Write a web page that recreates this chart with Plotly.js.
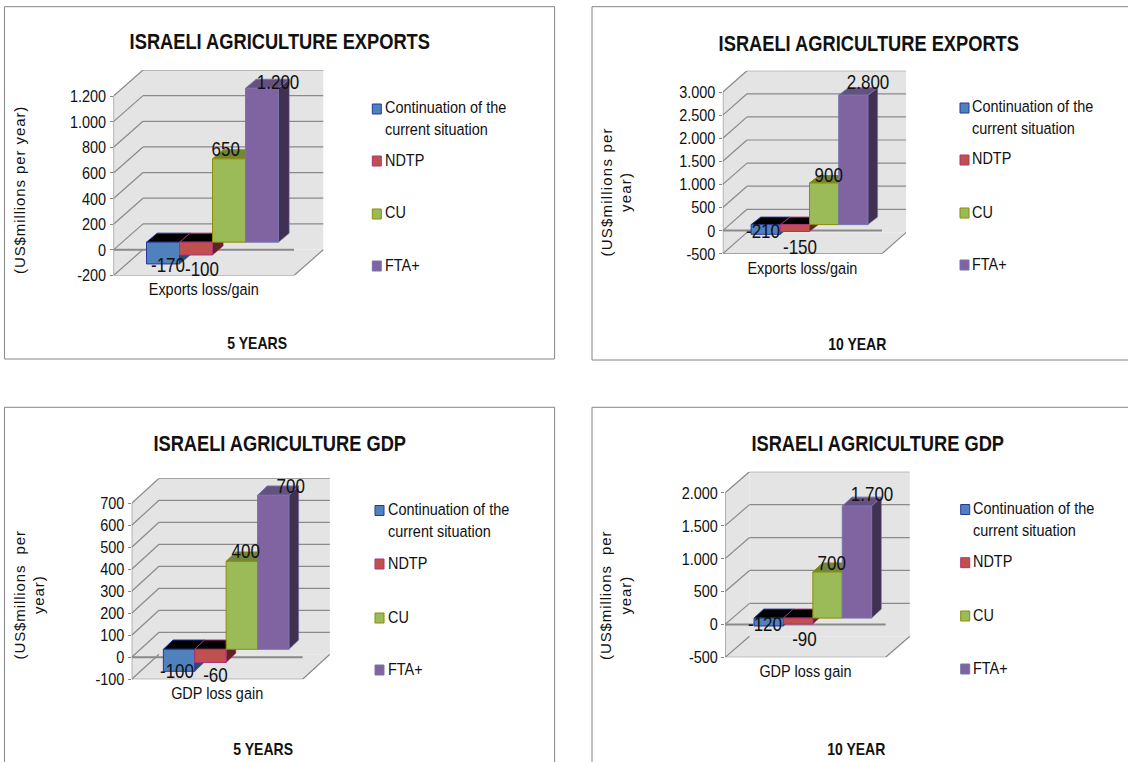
<!DOCTYPE html>
<html>
<head>
<meta charset="utf-8">
<script src="https://cdn.plot.ly/plotly-3.0.1.min.js"></script>
<style>
html,body{margin:0;padding:0;background:#fff}
#chart{width:1128px;height:762px}
</style>
</head>
<body>
<div id="chart"></div>
<script>
// Scenario names shared by the four panels
const seriesNames = ['Continuation of the<br>current situation', 'NDTP', 'CU', 'FTA+'];

// Values in US$ millions per year
const exports5 = [-170, -100, 650, 1200];
const exports10 = [-210, -150, 900, 2800];
const gdp5 = [-100, -60, 400, 700];
const gdp10 = [-120, -90, 700, 1700];

const exports5Ticks = [-200, 0, 200, 400, 600, 800, 1000, 1200];
const exports10Ticks = [-500, 0, 500, 1000, 1500, 2000, 2500, 3000];
const gdp5Ticks = [-100, 0, 100, 200, 300, 400, 500, 600, 700];
const gdp10Ticks = [-500, 0, 500, 1000, 1500, 2000];

const W = 1128, H = 762;
const SANS = 'Liberation Sans, Arial, sans-serif';
const INK = '#111111';
const CONDENSE = 0.85;   // horizontal squeeze giving the narrow letterforms

// Face colours per series: front, outline, top, side
const faces = [
  {front: '#4f81bd', line: '#27379c', top: '#000000', side: '#2b4a70'},
  {front: '#c0504d', line: '#b0307a', top: '#000000', side: '#5e2424'},
  {front: '#9bbb59', line: '#8c8c00', top: '#72853f', side: '#5c7034'},
  {front: '#8064a2', line: '#7674ae', top: '#65507f', side: '#403052'}
];

// Layout of each panel, in page pixels
const panels = [
  {title: 'ISRAELI AGRICULTURE EXPORTS', footer: '5 YEARS', category: 'Exports loss/gain',
   values: exports5, ticks: exports5Ticks,
   yTitle: ['(US$millions per year)'], yTitleX: 19, yTitleY: 190, yTitleSpacing: 0.9,
   frame: [4.5, 6.7, 554.6, 359],
   axisX: 113.5, floorRight: 294, wallDx: 29.5, wallDy: 26, tickTop: 96, tickBottom: 275.5,
   frontDx: 8.75, frontDy: 7.7, barW: 33, topDx: 10.7, topDy: 9,
   labelShift: [[5, 1], [6, 14], [-4, -10], [16, -6]],
   titleXY: [280, 42], footerXY: [256.6, 343],
   legendX: 372.3, legendTextX: 383.4, legendY: [118.5, 160, 213, 265]},
  {title: 'ISRAELI AGRICULTURE EXPORTS', footer: '10 YEAR', category: 'Exports loss/gain',
   values: exports10, ticks: exports10Ticks,
   yTitle: ['(US$millions per', 'year)'], yTitleX: 615.5, yTitleY: 192, yTitleSpacing: 1.2,
   frame: [592, 6.7, 1160, 360],
   axisX: 722.8, floorRight: 882, wallDx: 24.2, wallDy: 21.3, tickTop: 92, tickBottom: 253.7,
   frontDx: 7.1, frontDy: 6, barW: 29.2, topDx: 9.7, topDy: 7.5,
   labelShift: [[-3, -3], [5, 15], [4, -8], [15, -13]],
   titleXY: [869, 44], footerXY: [857, 344],
   legendX: 960, legendTextX: 969.8, legendY: [117.5, 159, 212, 264]},
  {title: 'ISRAELI AGRICULTURE GDP', footer: '5 YEARS', category: 'GDP loss gain',
   values: gdp5, ticks: gdp5Ticks,
   yTitle: ['(US$millions  per', 'year)'], yTitleX: 28.5, yTitleY: 595, yTitleSpacing: 0.9,
   frame: [4.5, 407.3, 554.6, 790],
   axisX: 131.7, floorRight: 302.6, wallDx: 27.3, wallDy: 25, tickTop: 503.3, tickBottom: 679.3,
   frontDx: 9, frontDy: 8, barW: 31.4, topDx: 9.7, topDy: 9.3,
   labelShift: [[-2, 0], [5, 12], [4, -10], [17, -9]],
   titleXY: [279, 444], footerXY: [263, 749],
   legendX: 375, legendTextX: 385.8, legendY: [520, 563, 617, 669]},
  {title: 'ISRAELI AGRICULTURE GDP', footer: '10 YEAR', category: 'GDP loss gain',
   values: gdp10, ticks: gdp10Ticks,
   yTitle: ['(US$millions  per', 'year)'], yTitleX: 615, yTitleY: 595, yTitleSpacing: 0.9,
   frame: [592, 407.3, 1160, 790],
   axisX: 725.2, floorRight: 885.6, wallDx: 24.3, wallDy: 21, tickTop: 492.7, tickBottom: 657.3,
   frontDx: 7.45, frontDy: 6.3, barW: 29.4, topDx: 9.7, topDy: 9,
   labelShift: [[-4, -2], [6, 15], [4, -9], [15, -12]],
   titleXY: [877, 444], footerXY: [856.5, 749],
   legendX: 960.7, legendTextX: 971.3, legendY: [519, 561.7, 615, 668]}
];

// Thousands are written with a dot
const fmt = v => String(v).replace(/\B(?=(\d{3})+(?!\d))/g, '.');
const spaced = (text, px) => '<span style="letter-spacing:' + px + 'px">' + text + '</span>';
const paperX = px => px / W;
const paperY = py => 1 - py / H;

const traces = [];
const shapes = [];
const annotations = [];
const layout = {
  width: W, height: H, margin: {l: 0, r: 0, t: 0, b: 0},
  paper_bgcolor: '#ffffff', plot_bgcolor: 'rgba(0,0,0,0)',
  showlegend: false, barmode: 'overlay', hovermode: false,
  font: {family: SANS, size: 17, color: INK}
};

panels.forEach((p, n) => {
  const suffix = n === 0 ? '' : String(n + 1);
  const xName = 'x' + suffix, yName = 'y' + suffix;
  const vMin = p.ticks[0], vMax = p.ticks[p.ticks.length - 1];
  const pxPerUnit = (p.tickBottom - p.tickTop) / (vMax - vMin);
  const floorW = p.floorRight - p.axisX;
  const xUnit = px => px / floorW;          // pixels to x-axis units
  const yUnit = px => px / pxPerUnit;       // pixels to y-axis units
  const backTop = p.tickTop - p.wallDy;
  const yTopValue = vMax + yUnit(p.wallDy);
  const xEnd = 1 + xUnit(p.wallDx);
  const wx = xUnit(p.wallDx), wy = yUnit(p.wallDy);

  layout['xaxis' + suffix] = {
    domain: [paperX(p.axisX), paperX(p.floorRight + p.wallDx)],
    range: [0, xEnd], anchor: yName, fixedrange: true, zeroline: false, showgrid: false,
    showline: false, ticks: '', tickmode: 'array', tickvals: [0.5], ticktext: [p.category],
    ticklabelstandoff: 2,
    tickfont: {family: SANS, size: 17, color: INK}
  };
  layout['yaxis' + suffix] = {
    domain: [paperY(p.tickBottom), paperY(backTop)],
    range: [vMin, yTopValue], anchor: xName, fixedrange: true, zeroline: false, showgrid: false,
    showline: false, ticks: 'outside', ticklen: 3,
    tickcolor: '#868686', tickmode: 'array', tickvals: p.ticks, ticktext: p.ticks.map(fmt),
    tickfont: {family: SANS, size: 17, color: INK}
  };

  const path = pts => 'M' + pts.map(q => q[0] + ',' + q[1]).join('L') + 'Z';
  const face = (pts, fill, line, width) => shapes.push({
    type: 'path', path: path(pts), xref: xName, yref: yName, layer: 'below',
    fillcolor: fill, line: {color: line || fill, width: width === undefined ? 0.5 : width}
  });
  const rule = (x0, y0, x1, y1, width) => shapes.push({
    type: 'line', x0, y0, x1, y1, xref: xName, yref: yName, layer: 'below',
    line: {color: '#8a8a8a', width: width || 1.2}
  });

  // Back wall, left wall and floor
  face([[wx, vMin + wy], [xEnd, vMin + wy], [xEnd, yTopValue], [wx, yTopValue]], '#e4e4e4', '#e4e4e4', 0);
  face([[0, vMin], [wx, vMin + wy], [wx, yTopValue], [0, vMax]], '#e4e4e4', '#e4e4e4', 0);
  face([[0, vMin], [1, vMin], [xEnd, vMin + wy], [wx, vMin + wy]], '#e4e4e4', '#e4e4e4', 0);

  // Gridlines on both walls
  p.ticks.forEach(t => {
    rule(0, t, wx, t + wy);
    if (t !== vMin) rule(wx, t + wy, xEnd, t + wy);
  });
  // Value axis, floor edges and the zero line across the front
  rule(0, vMin, 0, vMax);
  rule(0, vMin, 1, vMin);
  rule(1, vMin, xEnd, vMin + wy);
  rule(0, 0, 1, 0, 2);

  // Depth faces of each bar, built from its value
  const bw = xUnit(p.barW);
  const base = yUnit(p.frontDy);
  const tdx = xUnit(p.topDx), tdy = yUnit(p.topDy);
  const left = 0.5 + xUnit(p.frontDx) - 2 * bw;
  p.values.forEach((v, i) => {
    const x0 = left + i * bw, x1 = x0 + bw;
    const yTop = base + Math.max(v, 0), yLow = base + Math.min(v, 0);
    face([[x1, yLow], [x1 + tdx, yLow + tdy], [x1 + tdx, yTop + tdy], [x1, yTop]], faces[i].side, faces[i].line, 0.5);
    face([[x0, yTop], [x0 + tdx, yTop + tdy], [x1 + tdx, yTop + tdy], [x1, yTop]], faces[i].top, faces[i].line, 1);

    // Front face of the bar
    traces.push({
      type: 'bar', xaxis: xName, yaxis: yName, name: seriesNames[i].replace('<br>', ' '),
      x: [x0 + bw / 2], y: [v], base: [base], width: [bw],
      marker: {color: faces[i].front, line: {color: faces[i].line, width: 1}},
      hoverinfo: 'skip'
    });

    // Value label next to the bar
    annotations.push({
      xref: xName, yref: yName, x: x0 + bw / 2, y: base + v,
      xshift: p.labelShift[i][0], yshift: -p.labelShift[i][1],
      text: fmt(v), showarrow: false, xanchor: 'center', yanchor: 'middle',
      font: {family: SANS, size: 20, color: INK}
    });

    // Legend key and entry
    const ly = p.legendY[i];
    const keyY = i === 0 ? ly - 9.5 : ly + 1;
    shapes.push({
      type: 'rect', xref: 'paper', yref: 'paper',
      x0: paperX(p.legendX), x1: paperX(p.legendX + 9),
      y0: paperY(keyY + 5), y1: paperY(keyY - 5),
      fillcolor: faces[i].front, line: {color: faces[i].line, width: 1}
    });
    annotations.push({
      xref: 'paper', yref: 'paper', x: paperX(p.legendTextX), y: paperY(ly),
      text: seriesNames[i], showarrow: false, xanchor: 'left', yanchor: 'middle', align: 'left',
      font: {family: SANS, size: 17, color: INK}
    });
  });

  // Chart frame
  shapes.push({
    type: 'rect', xref: 'paper', yref: 'paper', layer: 'below',
    x0: paperX(p.frame[0]), x1: paperX(p.frame[2]), y0: paperY(p.frame[3]), y1: paperY(p.frame[1]),
    line: {color: '#868686', width: 1}, fillcolor: 'rgba(0,0,0,0)'
  });

  // Title, footer and vertical axis caption
  const caption = (x, y, text, size, weight, angle) => annotations.push({
    xref: 'paper', yref: 'paper', x: paperX(x), y: paperY(y), text, showarrow: false,
    xanchor: 'center', yanchor: 'middle', textangle: angle || 0,
    font: {family: SANS, size, weight: weight || 400, color: INK}
  });
  caption(p.titleXY[0], p.titleXY[1], p.title, 21.5, 700);
  caption(p.footerXY[0], p.footerXY[1], p.footer, 16.5, 700);
  caption(p.yTitleX, p.yTitleY, p.yTitle.map(t => spaced(t, p.yTitleSpacing)).join('<br>'), 15, 400, -90);
});

layout.shapes = shapes;
layout.annotations = annotations;

// Squeeze horizontal text around its anchor; the rotated captions stay as set
Plotly.newPlot('chart', traces, layout, {displayModeBar: false, responsive: false}).then(gd => {
  gd.querySelectorAll('text').forEach(el => {
    const m = el.getScreenCTM();
    if (!m || Math.abs(m.b) > 0.01 || !el.textContent) return;
    const ax = parseFloat(el.getAttribute('x')) || 0;
    const prev = el.getAttribute('transform') || '';
    el.setAttribute('transform', prev + ' translate(' + ax + ',0) scale(' + CONDENSE + ',1) translate(' + (-ax) + ',0)');
  });
});
</script>
</body>
</html>
